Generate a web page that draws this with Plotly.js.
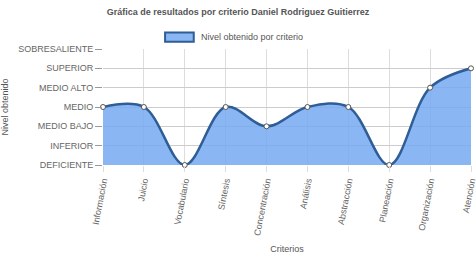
<!DOCTYPE html>
<html><head><meta charset="utf-8">
<script src="https://cdn.plot.ly/plotly-3.0.1.min.js"></script>
<style>html,body{margin:0;padding:0;background:#fff}#c{width:476px;height:260px}</style>
</head><body><div id="c"></div>
<script>
const categories = ["Información","Juicio","Vocabulario","Síntesis","Concentración","Análisis","Abstracción","Planeación","Organización","Atención"];
const levelLabels = ["DEFICIENTE","INFERIOR","MEDIO BAJO","MEDIO","MEDIO ALTO","SUPERIOR","SOBRESALIENTE"];
const levelValues = [0,1,2,3,4,5,6];
const values = [3,3,0,3,2,3,3,0,4,5];
const seriesName = "Nivel obtenido por criterio";
const font = "Liberation Sans, Arial, sans-serif";

const trace = {
  x: categories, y: values, type: "scatter", mode: "lines+markers",
  line: {shape: "spline", smoothing: 1, color: "#2f5d95", width: 2.5},
  fill: "tozeroy", fillcolor: "rgba(118,170,242,0.85)",
  marker: {size: 5, color: "#fff", line: {color: "#555", width: 1}},
  showlegend: false, name: seriesName, cliponaxis: false
};
const layout = {
  width: 476, height: 260,
  margin: {l: 103, r: 5, t: 49, b: 95},
  paper_bgcolor: "#fff", plot_bgcolor: "#fff",
  font: {family: font, size: 9, color: "#666"},
  title: {text: "<b>Gráfica de resultados por criterio Daniel Rodriguez Guitierrez</b>", x: 0.5, xanchor: "center", y: 0.955, yanchor: "middle", font: {size: 9, color: "#555", family: font}},
  xaxis: {
    type: "category", range: [0, 9], showgrid: true, gridcolor: "#ddd", gridwidth: 1,
    ticks: "outside", ticklen: 6, tickcolor: "#ddd", tickangle: -79,
    tickfont: {size: 9, color: "#666"}, showline: false, zeroline: false,
    title: {text: "Criterios", font: {size: 9, color: "#555"}, standoff: 10}
  },
  yaxis: {
    range: [0, 6], tickvals: levelValues, ticktext: levelLabels,
    showgrid: true, gridcolor: "#ccc", ticks: "outside", ticklen: 7, tickcolor: "#999",
    tickfont: {size: 9, color: "#666"}, zeroline: false, showline: false,
    title: {text: "Nivel obtenido", font: {size: 9, color: "#555"}, standoff: 12}
  },
  shapes: [{type: "rect", xref: "paper", yref: "paper", x0: 0.1687, x1: 0.2466, y0: 1.063, y1: 1.142,
    fillcolor: "rgba(118,170,242,0.85)", line: {color: "#2f5d95", width: 2}}],
  annotations: [{xref: "paper", yref: "paper", x: 0.26, y: 1.10, xanchor: "left", yanchor: "middle",
    text: seriesName, showarrow: false, font: {size: 9, color: "#555", family: font}}]
};
Plotly.newPlot("c", [trace], layout, {displayModeBar: false, staticPlot: true});
</script></body></html>
